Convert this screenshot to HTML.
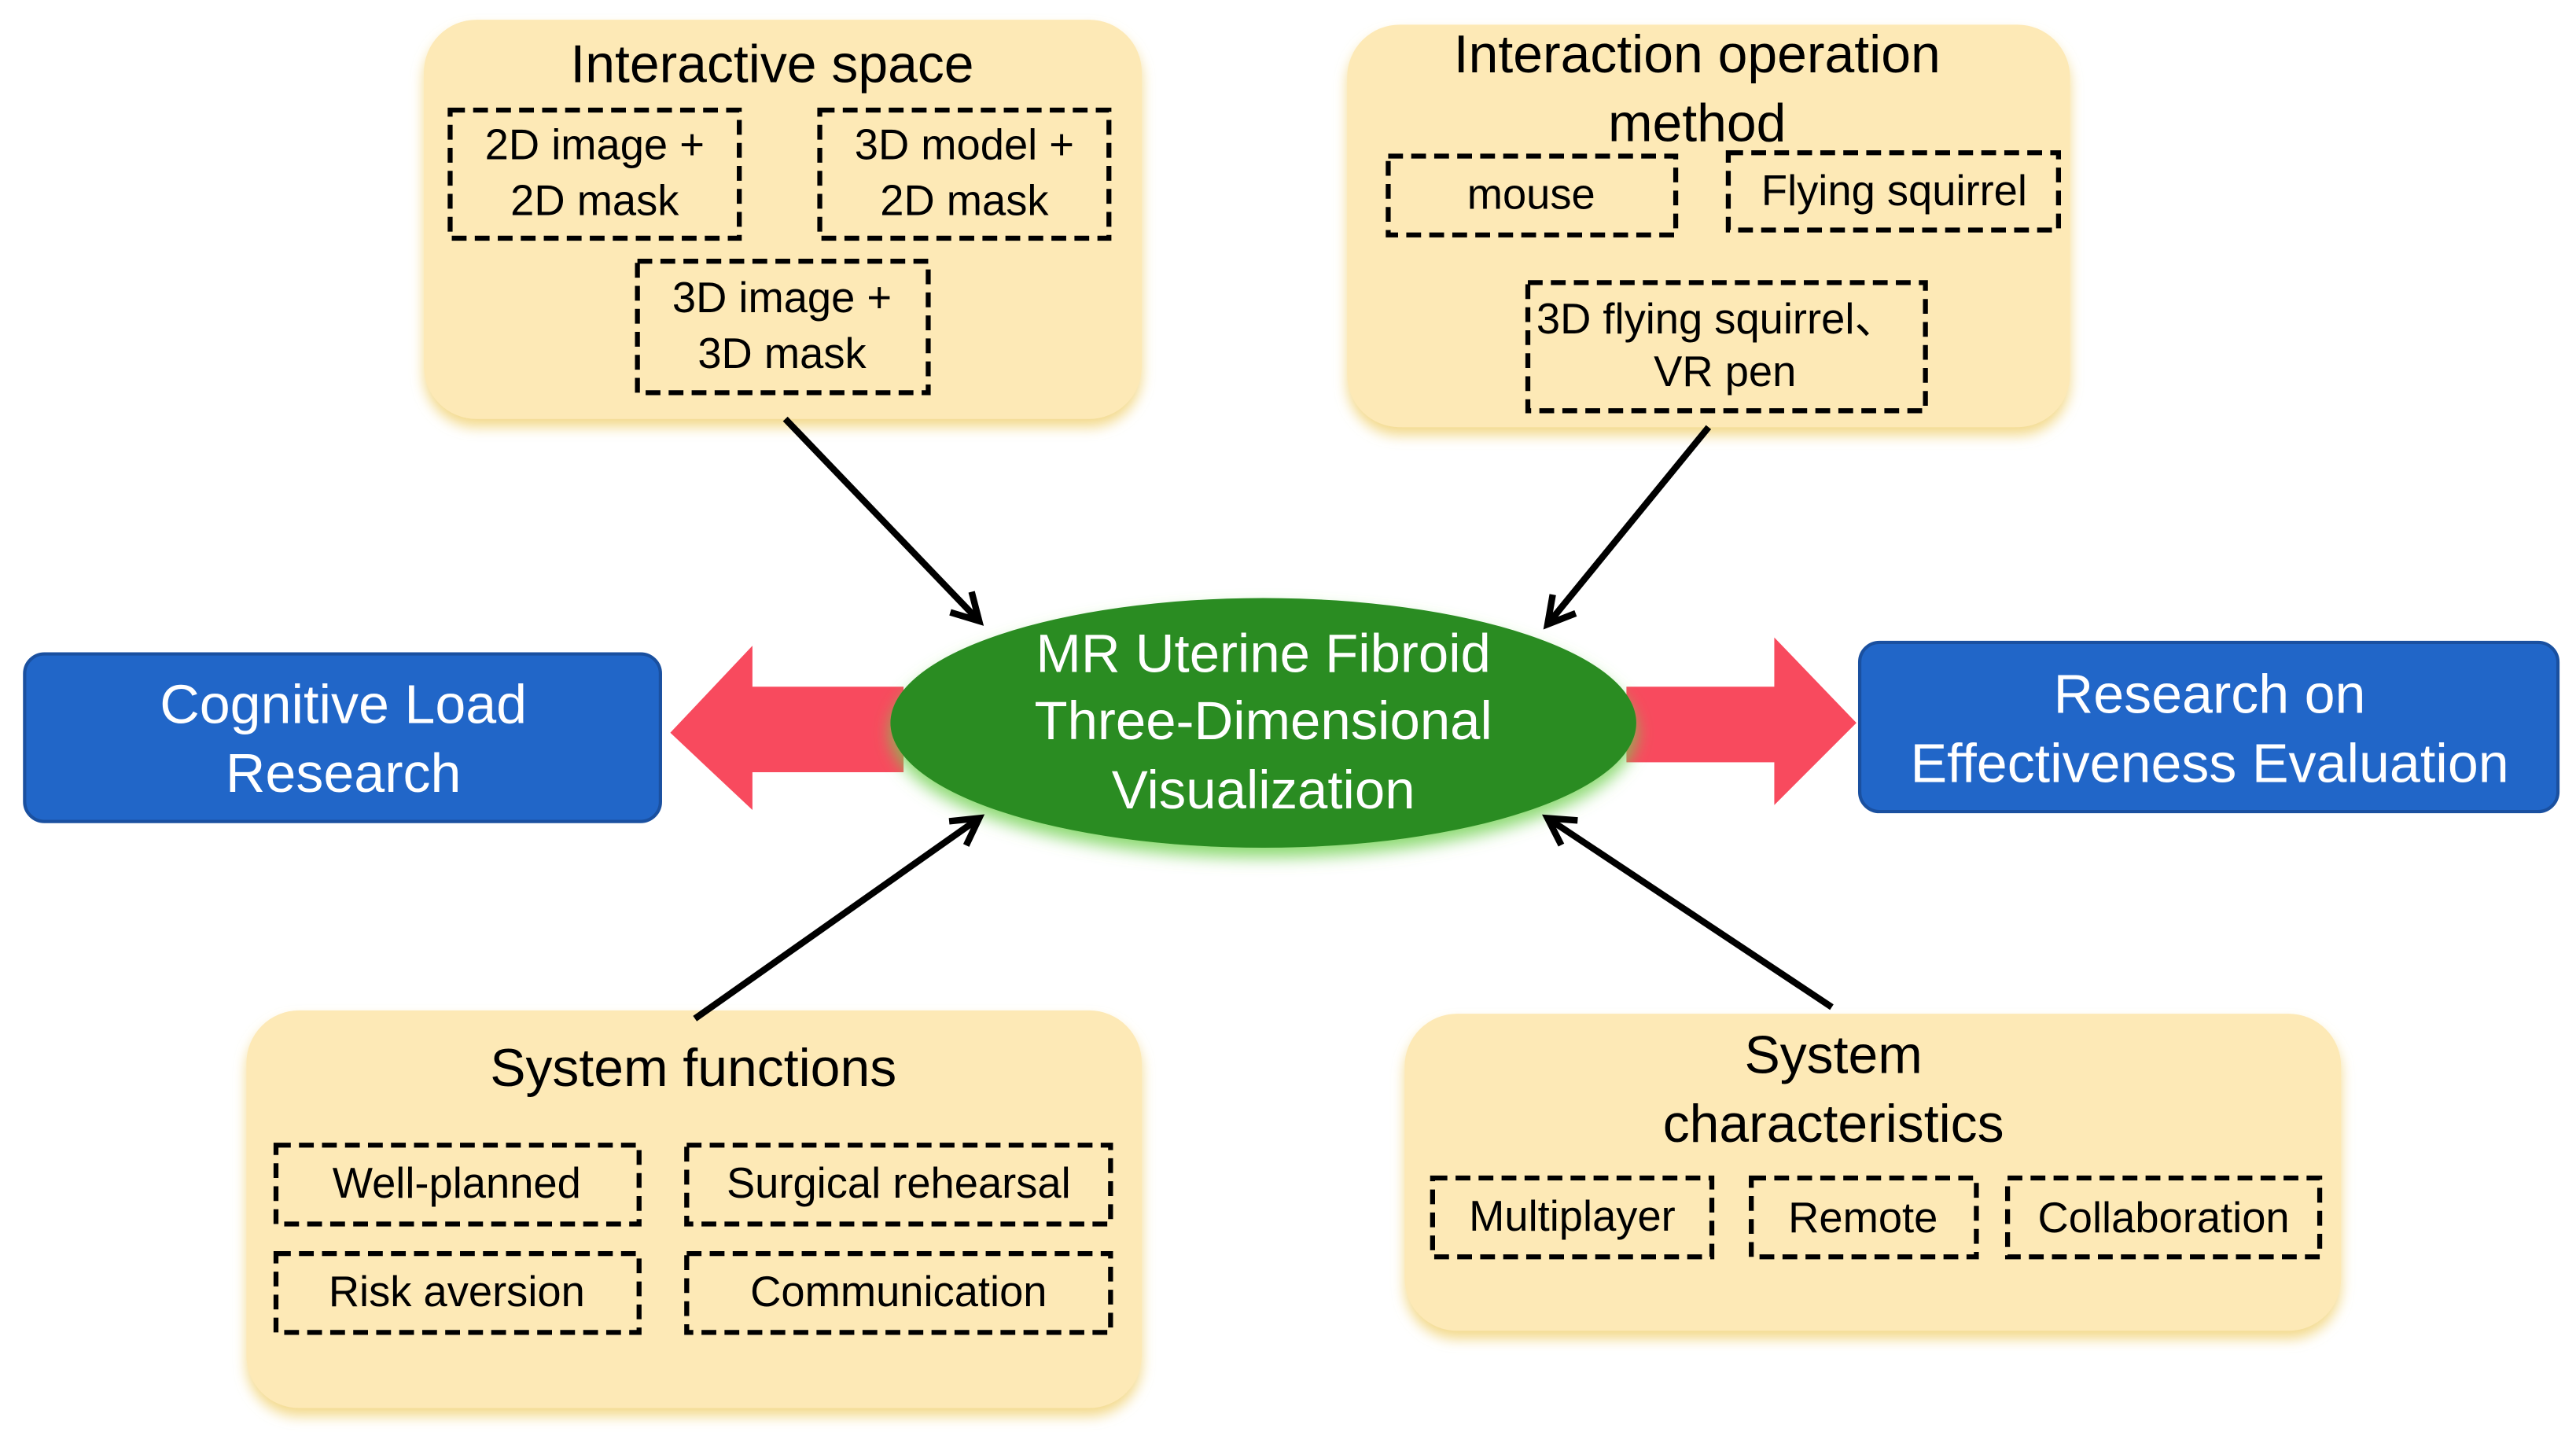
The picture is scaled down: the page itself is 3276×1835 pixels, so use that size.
<!DOCTYPE html>
<html><head><style>html,body{margin:0;padding:0;background:#fff}svg{display:block}</style></head>
<body>
<svg width="3276" height="1835" viewBox="0 0 1568 878.3" preserveAspectRatio="none" xmlns="http://www.w3.org/2000/svg" font-family="Liberation Sans, sans-serif">
<defs>
<filter id="sh" x="-10%" y="-10%" width="120%" height="130%"><feDropShadow dx="0" dy="5" stdDeviation="4" flood-color="#f0d070" flood-opacity="0.8"/></filter>
<filter id="gs" x="-10%" y="-10%" width="120%" height="140%"><feDropShadow dx="0" dy="6" stdDeviation="5" flood-color="#70d050" flood-opacity="0.8"/></filter>
<marker id="ah" markerWidth="24" markerHeight="24" refX="18" refY="11" orient="auto" markerUnits="userSpaceOnUse"><path d="M2,2 L18,11 L2,20" fill="none" stroke="#000" stroke-width="4"/></marker>
</defs>
<g fill="#fde9b6" filter="url(#sh)">
<rect x="258" y="12" width="437" height="243" rx="32"/>
<rect x="820" y="15" width="440" height="245" rx="32"/>
<rect x="150" y="615" width="545" height="242" rx="32"/>
<rect x="855" y="617" width="570" height="193" rx="32"/>
</g>
<g fill="none" stroke="#000" stroke-width="3" stroke-dasharray="9,5">
<rect x="274" y="67" width="176" height="78"/>
<rect x="499" y="67" width="176" height="78"/>
<rect x="388" y="159" width="177" height="80"/>
<rect x="845" y="95" width="175" height="48"/>
<rect x="1052" y="93" width="201" height="47"/>
<rect x="930" y="172" width="242" height="78"/>
<rect x="168" y="697" width="221" height="48"/>
<rect x="418" y="697" width="258" height="48"/>
<rect x="168" y="763" width="221" height="48"/>
<rect x="418" y="763" width="258" height="48"/>
<rect x="872" y="717" width="170" height="48"/>
<rect x="1066" y="717" width="137" height="48"/>
<rect x="1222" y="717" width="190" height="48"/>
</g>
<g font-size="26" text-anchor="middle" fill="#000">
<text x="362" y="97">2D image +</text><text x="362" y="131">2D mask</text>
<text x="587" y="97">3D model +</text><text x="587" y="131">2D mask</text>
<text x="476" y="190">3D image +</text><text x="476" y="224">3D mask</text>
<text x="932" y="127">mouse</text>
<text x="1153" y="125">Flying squirrel</text>
<text x="1045" y="203">3D flying squirrel、</text><text x="1050" y="235">VR pen</text>
<text x="278" y="729">Well-planned</text>
<text x="547" y="729">Surgical rehearsal</text>
<text x="278" y="795">Risk aversion</text>
<text x="547" y="795">Communication</text>
<text x="957" y="749">Multiplayer</text>
<text x="1134" y="750">Remote</text>
<text x="1317" y="750">Collaboration</text>
</g>
<g font-size="32.5" text-anchor="middle" fill="#000">
<text x="470" y="50">Interactive space</text>
<text x="1033" y="44">Interaction operation</text><text x="1033" y="86">method</text>
<text x="422" y="661">System functions</text>
<text x="1116" y="653">System</text><text x="1116" y="695">characteristics</text>
</g>
<path d="M408,446 L458,393 L458,418 L550,418 L550,470 L458,470 L458,493 Z" fill="#f84a5e"/>
<path d="M990,418 L1080,418 L1080,388 L1130,440 L1080,490 L1080,464 L990,464 Z" fill="#f84a5e"/>
<ellipse cx="769" cy="440" rx="227" ry="76" fill="#2a8c23" filter="url(#gs)"/>
<g font-size="33" text-anchor="middle" fill="#fff">
<text x="769" y="409">MR Uterine Fibroid</text>
<text x="769" y="450">Three-Dimensional</text>
<text x="769" y="492">Visualization</text>
</g>
<rect x="15" y="398" width="387" height="102" rx="12" fill="#2166c8" stroke="#1a50a0" stroke-width="2"/>
<rect x="1132" y="391" width="425" height="103" rx="12" fill="#2166c8" stroke="#1a50a0" stroke-width="2"/>
<g font-size="33.5" text-anchor="middle" fill="#fff">
<text x="209" y="440">Cognitive Load</text><text x="209" y="482">Research</text>
<text x="1345" y="434">Research on</text><text x="1345" y="476">Effectiveness Evaluation</text>
</g>
<g stroke="#000" stroke-width="4" marker-end="url(#ah)">
<line x1="478" y1="255" x2="596" y2="378"/>
<line x1="1040" y1="260" x2="942" y2="380"/>
<line x1="423" y1="620" x2="596" y2="498"/>
<line x1="1115" y1="613" x2="942" y2="498"/>
</g>
</svg>
</body></html>
